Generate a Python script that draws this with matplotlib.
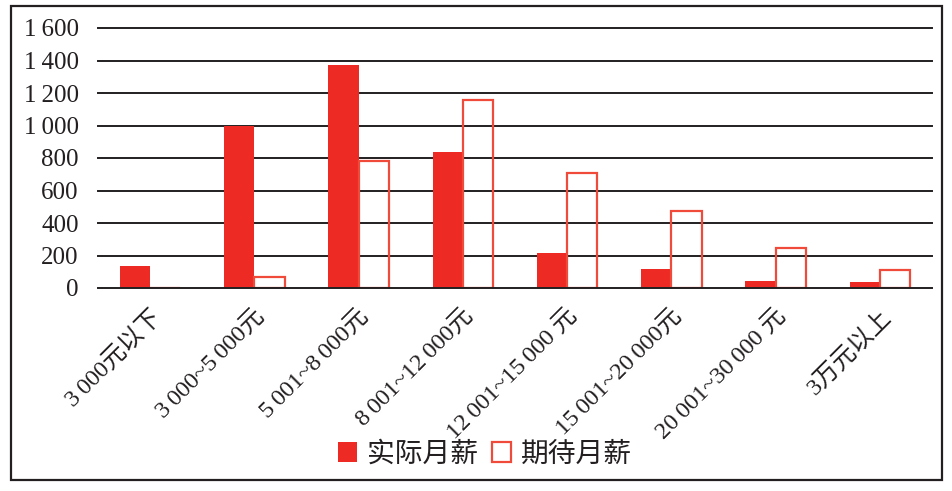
import matplotlib
matplotlib.use("Agg")
import matplotlib.pyplot as plt
import numpy as np
from matplotlib.patches import Rectangle, Patch

plt.rcParams['font.family'] = ['Liberation Serif', 'Noto Sans CJK SC', 'DejaVu Serif']

T = '\u2009'
categories = ['3' + T + '000元以下', '3' + T + '000~5' + T + '000元', '5' + T + '001~8' + T + '000元',
              '8' + T + '001~12' + T + '000元', '12' + T + '001~15' + T + '000 元',
              '15' + T + '001~20' + T + '000元', '20' + T + '001~30' + T + '000 元', '3万元以上']
actual = [135, 1000, 1372, 837, 213, 117, 43, 37]
expected = [0, 66, 783, 1159, 710, 476, 244, 109]
yticks = [0, 200, 400, 600, 800, 1000, 1200, 1400, 1600]
ytick_labels = ['0', '200', '400', '600', '800', '1' + T + '000', '1' + T + '200', '1' + T + '400', '1' + T + '600']

fill_color = '#EE2A24'
edge_color = '#F04B3A'

fig = plt.figure(figsize=(9.52, 4.91), dpi=100)
ax = fig.add_axes([98/952, 1 - 288/491, (932 - 98)/952, (288 - 28)/491])

x = np.arange(len(categories))
w = 0.29
ax.bar(x - w/2, actual, w, color=fill_color, edgecolor='none', zorder=3)
ax.bar(x + w/2, expected, w, facecolor='none', edgecolor=edge_color, linewidth=1.6, zorder=3)

ax.set_xlim(-0.5, len(categories) - 0.5)
ax.set_ylim(0, 1600)
ax.set_yticks(yticks)
ax.set_yticklabels(ytick_labels, fontsize=18, color='#231F20')
for yv in yticks:
    ax.axhline(yv, color='#231F20', linewidth=1.4, zorder=4 if yv == 0 else 2, clip_on=False)
ax.tick_params(axis='y', length=0, pad=14)
ax.set_xticks(x)
ax.set_xticklabels(categories, fontsize=17.5, rotation=45, ha='right', va='top',
                   rotation_mode='anchor', color='#231F20')
ax.tick_params(axis='x', length=0, pad=13)
for s in ax.spines.values():
    s.set_visible(False)

handles = [Patch(facecolor=fill_color, edgecolor='none'),
           Patch(facecolor='none', edgecolor=edge_color, linewidth=1.6)]
fig.legend(handles, ['实际月薪', '期待月薪'], loc='center', bbox_to_anchor=(485/952, 1 - 455/491),
           ncol=2, frameon=False, fontsize=20, handlelength=0.7, handleheight=0.7,
           handletextpad=0.35, columnspacing=0.5, labelcolor='#231F20')

fig.patches.append(Rectangle((11/952, 1 - 480/491), (942 - 11)/952, (480 - 6)/491,
                             transform=fig.transFigure, fill=False, edgecolor='#231F20', linewidth=1.6))

fig.savefig('out.png', dpi=100)
